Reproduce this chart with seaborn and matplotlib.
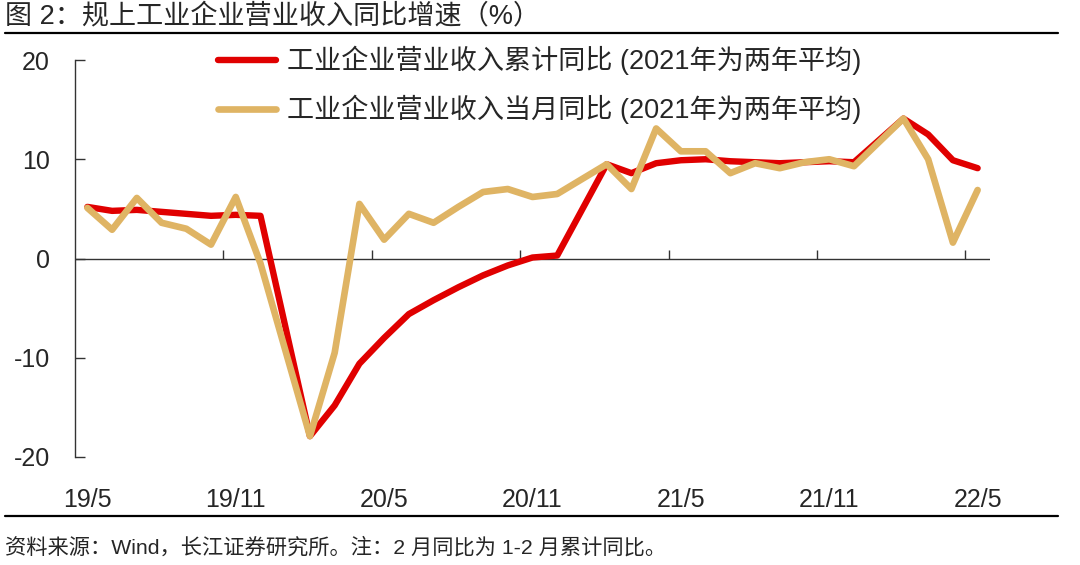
import numpy as np
import pandas as pd
import matplotlib
matplotlib.use("Agg")
import matplotlib.pyplot as plt
from matplotlib.lines import Line2D
import seaborn as sns

# monthly data, January has no separate value (Jan-Feb combined)
months = ["2019-05", "2019-06", "2019-07", "2019-08", "2019-09", "2019-10", "2019-11", "2019-12",
          "2020-02", "2020-03", "2020-04", "2020-05", "2020-06", "2020-07", "2020-08", "2020-09",
          "2020-10", "2020-11", "2020-12",
          "2021-02", "2021-03", "2021-04", "2021-05", "2021-06", "2021-07", "2021-08", "2021-09",
          "2021-10", "2021-11", "2021-12",
          "2022-02", "2022-03", "2022-04", "2022-05"]
cum_growth = [5.2, 4.8, 4.9, 4.7, 4.5, 4.3, 4.4, 4.3,
              -17.9, -14.8, -10.6, -8.0, -5.6, -4.2, -2.9, -1.7, -0.7, 0.1, 0.3,
              9.5, 8.6, 9.6, 9.9, 10.0, 9.8, 9.7, 9.6, 9.7, 9.8, 9.7,
              14.1, 12.5, 9.9, 9.1]
month_growth = [5.1, 2.9, 6.1, 3.6, 3.0, 1.4, 6.2, -0.5,
                -17.9, -9.5, 5.5, 1.9, 4.5, 3.6, 5.2, 6.7, 7.0, 6.2, 6.5,
                9.5, 7.0, 13.1, 10.8, 10.8, 8.6, 9.6, 9.1, 9.7, 10.0, 9.3,
                14.1, 10.0, 1.6, 6.9]
tick_labels = ["19/5", "19/11", "20/5", "20/11", "21/5", "21/11", "22/5"]
label_cum = "工业企业营业收入累计同比 (2021年为两年平均)"
label_month = "工业企业营业收入当月同比 (2021年为两年平均)"
title = "图 2：规上工业企业营业收入同比增速（%）"
source = "资料来源：Wind，长江证券研究所。注：2 月同比为 1-2 月累计同比。"

RED = "#E00000"
GOLD = "#DFB464"

dt = pd.to_datetime(months)
df = pd.DataFrame({
    "idx": (dt.year - 2019) * 12 + dt.month - 5,
    "cum": cum_growth,
    "month": month_growth,
})

sns.set_theme(style="white")
plt.rcParams["font.family"] = ["Liberation Sans", "Noto Sans CJK SC", "DejaVu Sans"]

fig = plt.figure(figsize=(10.8, 5.65), dpi=100)
ax = fig.add_axes([75 / 1080, 1 - 457 / 565, 915 / 1080, 397 / 565])

sns.lineplot(data=df, x="idx", y="cum", color=RED, lw=4.6, ax=ax, sort=False,
             solid_capstyle="round", solid_joinstyle="round", zorder=3)
sns.lineplot(data=df, x="idx", y="month", color=GOLD, lw=4.8, ax=ax, sort=False,
             solid_capstyle="round", solid_joinstyle="round", zorder=4)

ax.set_xlim(-0.5, 36.5)
ax.set_ylim(-20, 20)
ax.set_yticks([-20, -10, 0, 10, 20])
ax.set_yticklabels(["-20", "-10", "0", "10", "20"])
ax.set_xticks(np.arange(0, 37, 6))
ax.set_xticklabels(tick_labels)
ax.set_xlabel("")
ax.set_ylabel("")
for s in ["top", "right", "bottom"]:
    ax.spines[s].set_visible(False)
ax.spines["left"].set_color("#333333")
ax.spines["left"].set_linewidth(1.0)
ax.tick_params(axis="y", direction="in", length=7, width=1.0, color="#333333",
               labelsize=18, pad=18, left=True)
ax.tick_params(axis="x", length=0, labelsize=18, pad=22)

# zero line with tick marks between categories
ax.axhline(0, color="#333333", lw=1.0, zorder=2)
ax.vlines(np.arange(5.5, 36, 6), 0, 0.9, color="#333333", lw=1.0, zorder=2)

# legend
handles = [Line2D([], [], color=RED, lw=4.6, solid_capstyle="round"),
           Line2D([], [], color=GOLD, lw=4.8, solid_capstyle="round")]
fig.legend(handles, [label_cum, label_month], loc="upper left",
           bbox_to_anchor=(218 / 1080, 1 - 46 / 565), frameon=False, fontsize=19.5,
           handlelength=2.15, handletextpad=0.4, labelspacing=0.72, borderpad=0,
           borderaxespad=0)

# title, rules and source note
fig.text(5 / 1080, 1 - 16 / 565, title, fontsize=19.5, va="center", ha="left")
fig.add_artist(Line2D([5 / 1080, 1058 / 1080], [1 - 33 / 565, 1 - 33 / 565],
                      color="black", lw=1.6, transform=fig.transFigure))
fig.add_artist(Line2D([5 / 1080, 1058 / 1080], [1 - 516 / 565, 1 - 516 / 565],
                      color="black", lw=1.6, transform=fig.transFigure))
fig.text(5 / 1080, 1 - 547 / 565, source, fontsize=15.3, va="center", ha="left")

fig.savefig("out.png", dpi=100)
